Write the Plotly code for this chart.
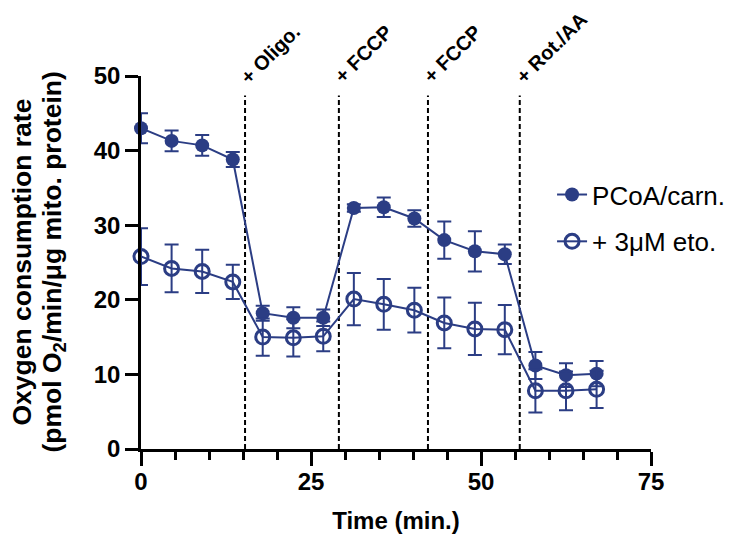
import plotly.graph_objects as go

# Data
time_min = [0, 4.5, 9, 13.5, 17.9, 22.4, 26.8, 31.3, 35.7, 40.2, 44.6, 49.1, 53.5, 58, 62.5, 67]
pcoa_mean = [43.0, 41.3, 40.7, 38.8, 18.2, 17.6, 17.6, 32.3, 32.4, 30.9, 28.0, 26.5, 26.1, 11.2, 9.9, 10.1]
pcoa_err = [2.0, 1.4, 1.4, 1.0, 1.0, 1.4, 1.1, 0.5, 1.3, 1.1, 2.5, 2.7, 1.3, 1.8, 1.6, 1.7]
eto_mean = [25.8, 24.2, 23.8, 22.4, 15.0, 14.9, 15.1, 20.1, 19.4, 18.6, 16.9, 16.1, 16.0, 7.8, 7.8, 8.0]
eto_err = [3.8, 3.2, 2.9, 2.3, 2.5, 2.5, 2.0, 3.5, 3.4, 3.0, 3.4, 3.5, 3.3, 2.9, 2.6, 2.5]

inj_times = [15.3, 29.1, 42.2, 55.7]
inj_labels = ["+ Oligo.", "+ FCCP", "+ FCCP", "+ Rot./AA"]

x_ticks = [0, 25, 50, 75]
y_ticks = [0, 10, 20, 30, 40, 50]

y_title_lines = ["Oxygen consumption rate", "(pmol O<sub>2</sub>/min/μg mito. protein)"]

NAVY = "#2B3D84"
FONT = "Liberation Sans, Arial, Helvetica, sans-serif"

fig = go.Figure()

fig.add_trace(go.Scatter(
    x=time_min, y=pcoa_mean, name="PCoA/carn.", mode="lines+markers",
    line=dict(color=NAVY, width=2),
    marker=dict(symbol="circle", size=14, color=NAVY),
    error_y=dict(type="data", array=pcoa_err, color=NAVY, thickness=2, width=7),
    cliponaxis=False, legendgroup="a",
))
fig.add_trace(go.Scatter(
    x=time_min, y=eto_mean, name="+ 3μM eto.", mode="lines+markers",
    line=dict(color=NAVY, width=2),
    marker=dict(symbol="circle-open", size=14, color=NAVY, line=dict(width=3, color=NAVY)),
    error_y=dict(type="data", array=eto_err, color=NAVY, thickness=2, width=7),
    cliponaxis=False, legendgroup="b",
))

for t, lab in zip(inj_times, inj_labels):
    fig.add_shape(type="line", x0=t, x1=t, y0=0, y1=47.4, xref="x", yref="y",
                  line=dict(color="black", width=2, dash="5px,3px"), layer="below")
    fig.add_annotation(x=t, y=0.965, xref="x", yref="paper", text=lab, showarrow=False,
                       textangle=-45, xanchor="left", yanchor="bottom", xshift=-10,
                       borderpad=0,
                       font=dict(family=FONT, size=20, color="black", weight="bold"))

# y-axis title, two lines (positions relative to the plot's left edge)
for line_text, shift in zip(y_title_lines, [-120, -88]):
    fig.add_annotation(x=0, y=0.5, xref="paper", yref="paper", text=line_text, showarrow=False,
                       textangle=-90, xanchor="center", yanchor="middle", xshift=shift,
                       borderpad=0,
                       font=dict(family=FONT, size=26.5, color="black", weight="bold"))

fig.update_layout(
    width=736, height=542,
    margin=dict(l=133, r=93, t=68, b=101, autoexpand=False),
    paper_bgcolor="white", plot_bgcolor="white",
    showlegend=True,
    legend=dict(x=0.806, y=0.745, xanchor="left", yanchor="top",
                font=dict(family=FONT, size=26, color="black"),
                traceorder="grouped", tracegroupgap=10, bgcolor="rgba(0,0,0,0)"),
    font=dict(family=FONT, color="black"),
)

fig.update_xaxes(
    range=[0, 75], tickvals=x_ticks, ticktext=[str(v) for v in x_ticks],
    showline=True, linecolor="black", linewidth=2.5, showgrid=False, zeroline=False,
    ticks="outside", ticklen=14, tickwidth=2.5, tickcolor="black",
    minor=dict(dtick=5, tick0=0, ticks="outside", ticklen=8, tickwidth=2.5, tickcolor="black", showgrid=False),
    tickfont=dict(family=FONT, size=24, color="black", weight="bold"),
    ticklabelstandoff=-5,
    title=dict(text="Time (min.)", font=dict(family=FONT, size=24, color="black", weight="bold"), standoff=19),
)
fig.update_yaxes(
    range=[0, 50], tickvals=y_ticks, ticktext=[str(v) for v in y_ticks],
    showline=True, linecolor="black", linewidth=2.5, showgrid=False, zeroline=False,
    ticks="outside", ticklen=13, tickwidth=2.5, tickcolor="black",
    tickfont=dict(family=FONT, size=24, color="black", weight="bold"),
)

fig.write_html("out.html")
